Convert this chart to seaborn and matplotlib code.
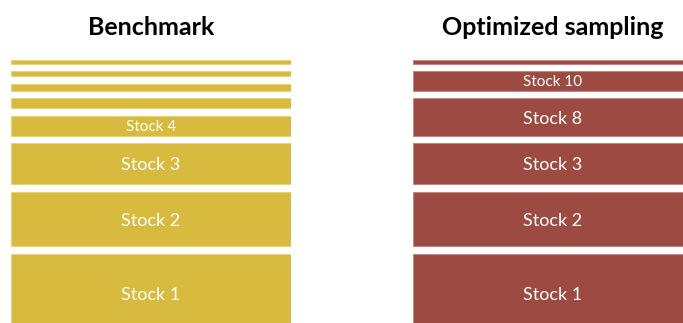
import matplotlib
matplotlib.use("Agg")
import matplotlib.pyplot as plt
import seaborn as sns
import numpy as np

# ---- data (segment heights, bottom to top) ----
bench_title = "Benchmark"
bench_labels = ["Stock 1", "Stock 2", "Stock 3", "Stock 4", "", "", "", ""]
bench_values = [78, 54.4, 41, 20, 10, 6.7, 5, 3.3]

opt_title = "Optimized sampling"
opt_labels = ["Stock 1", "Stock 2", "Stock 3", "Stock 8", "Stock 10", ""]
opt_values = [78, 54.4, 41, 37.6, 19.3, 3.3]

GOLD = "#D8BB3E"
GOLD_EDGE = "#E6D27F"
RED = "#9C4A42"
RED_EDGE = "#C08A84"
GAP = 7.6

sns.set_theme(style="white")
plt.rcParams["font.family"] = ["Lato", "DejaVu Sans"]

W, H = 683, 323
fig = plt.figure(figsize=(W / 100, H / 100), dpi=100)
fig.patch.set_facecolor("white")


def panel(left_px, title, labels, values, color, edge):
    ax = fig.add_axes([left_px / W, 0, 280 / W, 1])
    bottoms = np.concatenate([[0], np.cumsum(values)[:-1]]) + GAP * np.arange(len(values))
    for lab, h, b in zip(labels, values, bottoms):
        sns.barplot(x=[title], y=[h], bottom=b, color=color, width=1.0,
                    edgecolor=edge, linewidth=0.8, saturation=1, ax=ax)
        if lab:
            fs = 13 if h > 30 else 11
            ax.text(0, b + h / 2, lab, ha="center", va="center_baseline",
                    color="white", fontsize=fs)
    ax.set_xlim(-0.5, 0.5)
    ax.set_ylim(9, 9 + H)
    ax.axis("off")
    top = 9 + H
    ax.text(0, top - 35, title, ha="center", va="baseline", fontsize=18,
            fontweight="bold", color="black")
    return ax


panel(11, bench_title, bench_labels, bench_values, GOLD, GOLD_EDGE)
panel(413, opt_title, opt_labels, opt_values, RED, RED_EDGE)

fig.savefig("out.png", dpi=100, facecolor="white")
